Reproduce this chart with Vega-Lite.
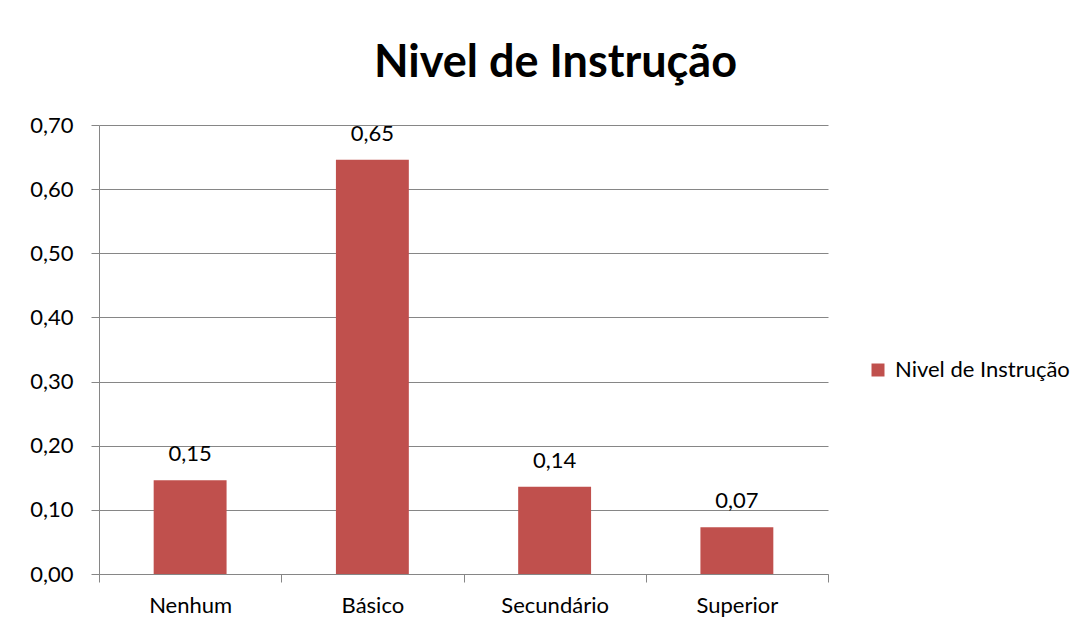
{
  "$schema": "https://vega.github.io/schema/vega-lite/v6.json",
  "width": 729,
  "height": 449,
  "autosize": {"type": "none"},
  "padding": {"left": 99, "top": 125, "right": 257, "bottom": 58},
  "background": "white",
  "config": {
    "locale": {"number": {"decimal": ",", "thousands": ".", "grouping": [3], "currency": ["", " €"]}},
    "font": "Lato",
    "view": {"stroke": null}
  },
  "title": {
    "text": "Nivel de Instrução",
    "fontSize": 45,
    "fontWeight": "bold",
    "font": "Lato",
    "color": "#000000",
    "anchor": "middle",
    "dx": 92,
    "offset": 28
  },
  "data": {
    "values": [
      {"categoria": "Nenhum", "valor": 0.146, "serie": "Nivel de Instrução"},
      {"categoria": "Básico", "valor": 0.646, "serie": "Nivel de Instrução"},
      {"categoria": "Secundário", "valor": 0.136, "serie": "Nivel de Instrução"},
      {"categoria": "Superior", "valor": 0.073, "serie": "Nivel de Instrução"}
    ]
  },
  "encoding": {
    "x": {
      "field": "categoria",
      "type": "nominal",
      "sort": null,
      "scale": {"paddingInner": 0, "paddingOuter": 0},
      "axis": {
        "title": null,
        "labelAngle": 0,
        "labelFontSize": 22,
        "labelColor": "#000000",
        "labelPadding": 13,
        "ticks": true,
        "tickBand": "extent",
        "tickSize": 8,
        "tickWidth": 1,
        "tickColor": "#868686",
        "domainColor": "#868686",
        "labelFont": "Lato"
      }
    },
    "y": {
      "field": "valor",
      "type": "quantitative",
      "scale": {"domain": [0, 0.7], "nice": false},
      "axis": {
        "title": null,
        "values": [0, 0.1, 0.2, 0.3, 0.4, 0.5, 0.6, 0.7],
        "format": ".2f",
        "labelFontSize": 22,
        "labelColor": "#000000",
        "labelPadding": 18,
        "tickSize": 8,
        "tickColor": "#868686",
        "domainColor": "#868686",
        "gridColor": "#868686",
        "grid": true,
        "labelFont": "Lato"
      }
    }
  },
  "layer": [
    {
      "mark": {"type": "bar", "color": "#C0504D", "width": {"band": 0.4}},
      "encoding": {
        "color": {
          "field": "serie",
          "type": "nominal",
          "scale": {"range": ["#C0504D"]},
          "legend": {
            "title": null,
            "orient": "none",
            "legendX": 768,
            "legendY": 234,
            "symbolType": "square",
            "symbolSize": 169,
            "symbolStrokeWidth": 0,
            "labelFontSize": 22,
            "labelLimit": 400,
            "labelColor": "#000000",
            "labelFont": "Lato",
            "labelOffset": 6
          }
        }
      }
    },
    {
      "mark": {"type": "text", "baseline": "bottom", "dy": -14, "fontSize": 22, "color": "#000000", "font": "Lato"},
      "encoding": {
        "text": {"field": "valor", "type": "quantitative", "format": ".2f"}
      }
    }
  ]
}
